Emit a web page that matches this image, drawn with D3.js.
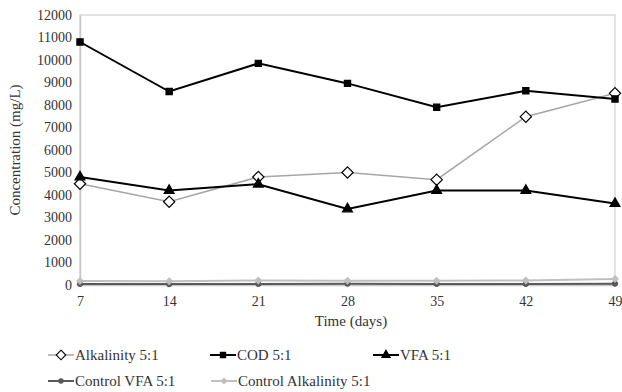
<!DOCTYPE html>
<html><head><meta charset="utf-8">
<script src="https://cdn.jsdelivr.net/npm/d3@7"></script>
<style>body{margin:0;background:#fff}svg{display:block}text{font-family:"Liberation Serif","Times New Roman",serif;fill:#333}</style>
</head><body>
<svg id="c" width="622" height="392"></svg>
<script>
const days = [7, 14, 21, 28, 35, 42, 49];
const yTicks = [0,1000,2000,3000,4000,5000,6000,7000,8000,9000,10000,11000,12000];
const alkalinity = [4500, 3700, 4800, 5000, 4680, 7480, 8520];
const cod = [10800, 8600, 9850, 8960, 7900, 8630, 8270];
const vfa = [4800, 4200, 4480, 3380, 4200, 4200, 3620];
const controlVfa = [50, 40, 50, 60, 50, 50, 60];
const controlAlk = [180, 170, 200, 190, 190, 200, 270];

const seriesNames = ["Alkalinity 5:1","COD 5:1","VFA 5:1","Control VFA 5:1","Control Alkalinity 5:1"];
const series = [
  {name: seriesNames[3], values: controlVfa, color:"#595959", width:2, sym:"circle", fill:"#595959", stroke:"#595959", size:5},
  {name: seriesNames[4], values: controlAlk, color:"#bfbfbf", width:2, sym:"diamond", fill:"#bfbfbf", stroke:"#bfbfbf", size:5},
  {name: seriesNames[0], values: alkalinity, color:"#a6a6a6", width:1.5, sym:"diamond", fill:"#fff", stroke:"#000", size:9},
  {name: seriesNames[2], values: vfa, color:"#000", width:2, sym:"triangle", fill:"#000", stroke:"#000", size:6.5},
  {name: seriesNames[1], values: cod, color:"#000", width:2, sym:"square", fill:"#000", stroke:"#000", size:7}
];

const svg = d3.select("#c");
const m = {l:80, r:615, t:15, b:285};
const x = d3.scaleLinear().domain([7,49]).range([m.l, m.r]);
const y = d3.scaleLinear().domain([0,12000]).range([m.b, m.t]);

svg.append("rect").attr("x",m.l).attr("y",m.t).attr("width",m.r-m.l).attr("height",m.b-m.t)
  .attr("fill","none").attr("stroke","#d0d0d0").attr("stroke-width",1.2);

const yAxis = svg.append("g").attr("transform",`translate(${m.l},0)`)
  .call(d3.axisLeft(y).tickValues(yTicks).tickSize(0).tickPadding(8).tickFormat(d3.format("d")));
yAxis.select(".domain").attr("stroke","#c8c8c8").attr("stroke-width",1.5);
yAxis.selectAll("text").attr("font-size",14).style("font-family","Liberation Serif").attr("fill","#333");

const xAxis = svg.append("g").attr("transform",`translate(0,${m.b})`)
  .call(d3.axisBottom(x).tickValues(days).tickSize(0).tickPadding(11).tickFormat(d3.format("d")));
xAxis.select(".domain").attr("stroke","#c8c8c8").attr("stroke-width",1.5);
xAxis.selectAll("text").attr("font-size",14).style("font-family","Liberation Serif").attr("fill","#333");

svg.append("text").attr("x",351).attr("y",326).attr("text-anchor","middle")
  .attr("font-size",15).text("Time (days)");
svg.append("text").attr("transform",`translate(20,${(m.t+m.b)/2}) rotate(-90)`).attr("text-anchor","middle")
  .attr("font-size",15).text("Concentration (mg/L)");

function symPath(s){
  const map = {circle:d3.symbolCircle, diamond:d3.symbolDiamond2, triangle:d3.symbolTriangle, square:d3.symbolSquare2};
  return d3.symbol().type(map[s.sym]).size(s.size*s.size*(s.sym==="circle"?0.8:1))();
}

const line = d3.line().x((d,i)=>x(days[i])).y(d=>y(d));
series.forEach(s=>{
  svg.append("path").attr("d",line(s.values)).attr("fill","none").attr("stroke",s.color).attr("stroke-width",s.width);
  svg.selectAll(null).data(s.values).enter().append("path")
    .attr("transform",(d,i)=>`translate(${x(days[i])},${y(d)})`)
    .attr("d",symPath(s)).attr("fill",s.fill).attr("stroke",s.stroke).attr("stroke-width",1.2);
});

const legendPos = [
  {name: seriesNames[0], x:48, y:355},
  {name: seriesNames[1], x:210, y:355},
  {name: seriesNames[2], x:373, y:355},
  {name: seriesNames[3], x:48, y:381},
  {name: seriesNames[4], x:211, y:381}
];
legendPos.forEach(p=>{
  const s = series.find(d=>d.name===p.name);
  const g = svg.append("g").attr("transform",`translate(${p.x},${p.y})`);
  g.append("line").attr("x1",0).attr("x2",26).attr("y1",0).attr("y2",0).attr("stroke",s.color).attr("stroke-width",s.width);
  g.append("path").attr("transform","translate(13,0)").attr("d",symPath(Object.assign({},s,{size:s.size*0.85})))
    .attr("fill",s.fill).attr("stroke",s.stroke).attr("stroke-width",1.1);
  g.append("text").attr("x",27).attr("y",5).attr("font-size",15).text(p.name);
});
</script>
</body></html>
